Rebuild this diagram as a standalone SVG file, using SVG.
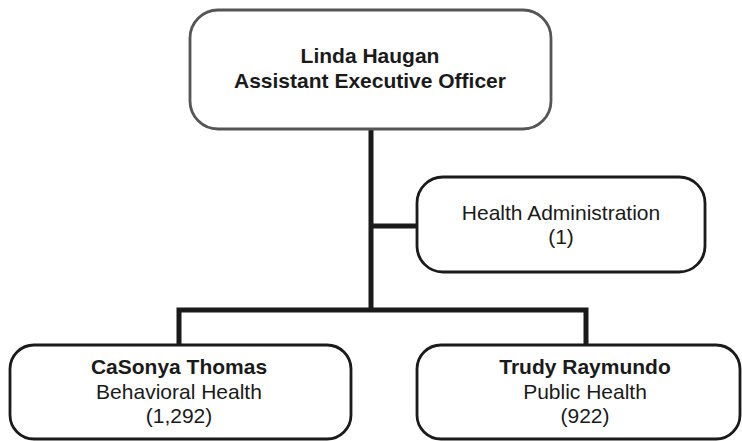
<svg xmlns="http://www.w3.org/2000/svg" width="742" height="441" viewBox="0 0 742 441">
<style>
.box{fill:#fff;stroke:#1a1a1a;stroke-width:2.8}
.top{stroke:#555}
.t{font-family:"Liberation Sans",Arial,sans-serif;font-size:21px;fill:#1a1a1a;text-anchor:middle}
.b{font-weight:bold}
.c{fill:none;stroke:#1a1a1a;stroke-width:5}
</style>
<rect width="742" height="441" fill="#fff"/>
<g id="connectors">
<path class="c" d="M371 129V310M371 226H417M179 345V310H586V345"/>
</g>
<g id="linda">
<rect class="box top" x="190" y="10" width="361" height="119" rx="28"/>
<text class="t b" x="370" y="63">Linda Haugan</text>
<text class="t b" x="370" y="88">Assistant Executive Officer</text>
</g>
<g id="admin">
<rect class="box" x="417" y="177" width="288" height="95" rx="26"/>
<text class="t" x="561" y="220">Health Administration</text>
<text class="t" x="561" y="244">(1)</text>
</g>
<g id="casonya">
<rect class="box" x="10" y="345" width="341" height="94" rx="24"/>
<text class="t b" x="179" y="374">CaSonya Thomas</text>
<text class="t" x="179" y="399">Behavioral Health</text>
<text class="t" x="179" y="423">(1,292)</text>
</g>
<g id="trudy">
<rect class="box" x="417" y="345" width="323" height="94" rx="24"/>
<text class="t b" x="585" y="374">Trudy Raymundo</text>
<text class="t" x="585" y="399">Public Health</text>
<text class="t" x="585" y="423">(922)</text>
</g>
</svg>
